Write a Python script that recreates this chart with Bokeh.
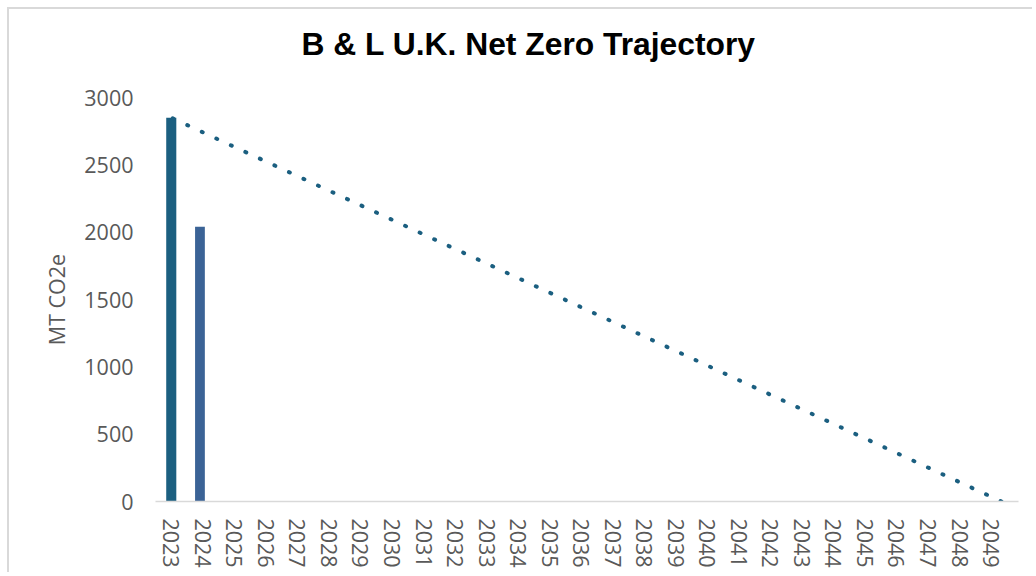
from bokeh.plotting import figure
from bokeh.models import Range1d, FixedTicker, Title
from bokeh.transform import dodge
from bokeh.embed import file_html
from bokeh.resources import INLINE

# ---- data ----
tick_years = [2023, 2024, 2025, 2026, 2027, 2028, 2029, 2030, 2031, 2032,
              2033, 2034, 2035, 2036, 2037, 2038, 2039, 2040, 2041, 2042,
              2043, 2044, 2045, 2046, 2047, 2048, 2049]
y_ticks = [0, 500, 1000, 1500, 2000, 2500, 3000]

actual_year = [2023]
actual_value = [2850]
current_year = [2024]
current_value = [2040]

# net-zero trajectory endpoints (drawn from the zero end so a dot lands on it)
trajectory_years = [2049.33, 2023]
trajectory_values = [0, 2850]

title_text = "B & L U.K. Net Zero Trajectory"

# ---- figure ----
p = figure(width=1025, height=565, output_backend="svg", toolbar_location=None,
           x_range=Range1d(2022.5, 2049.87), y_range=Range1d(0, 3000),
           min_border_left=146, min_border_right=16,
           min_border_top=88, min_border_bottom=73)
p.styles = {"margin-left": "7px", "margin-top": "7px",
            "border-left": "2px solid #d9d9d9", "border-top": "2px solid #d9d9d9"}
p.outline_line_color = None
p.grid.visible = False
p.background_fill_color = "white"
p.border_fill_color = "white"

# trailing empty line lifts the title away from the plot area
p.title = Title(text=title_text + "\n", align="left",
                offset=146, standoff=0,
                text_font="Liberation Sans", text_font_style="bold",
                text_font_size="31.8px", text_color="#000000")

p.vbar(x=actual_year, top=actual_value, width=0.32, bottom=0,
       fill_color="#1b5f80", line_color=None)
p.vbar(x=dodge("x", -0.09), top="top", width=0.31, bottom=0,
       source=dict(x=current_year, top=current_value),
       fill_color="#3b6396", line_color=None)

p.line(trajectory_years, trajectory_values, line_color="#1b5f80",
       line_width=4, line_dash="1 15", line_cap="round")

FONT = "Open Sans"
SIZE = "21.5px"

# x axis
xa = p.xaxis[0]
xa.ticker = FixedTicker(ticks=tick_years)
xa.major_label_overrides = {y: str(y) for y in tick_years}
xa.major_label_orientation = "vertical"
xa.major_tick_out = 0
xa.major_tick_in = 0
xa.minor_tick_out = 0
xa.minor_tick_in = 0
xa.major_label_standoff = 17
xa.major_label_text_font = FONT
xa.major_label_text_font_size = SIZE
xa.major_label_text_color = "#595959"
xa.axis_line_color = "#d9d9d9"
xa.axis_line_width = 1.5
xa.major_tick_line_color = None
xa.minor_tick_line_color = None

# y axis
ya = p.yaxis[0]
ya.ticker = FixedTicker(ticks=y_ticks)
ya.major_tick_out = 0
ya.major_tick_in = 0
ya.minor_tick_out = 0
ya.minor_tick_in = 0
ya.major_label_standoff = 22
ya.major_label_text_font = FONT
ya.major_label_text_font_size = SIZE
ya.major_label_text_color = "#595959"
ya.axis_line_color = None
ya.major_tick_line_color = None
ya.minor_tick_line_color = None
ya.axis_label = "MT CO2e"
ya.axis_label_text_font = FONT
ya.axis_label_text_font_size = SIZE
ya.axis_label_text_font_style = "normal"
ya.axis_label_text_color = "#595959"
ya.axis_label_standoff = 10

open("out.html", "w").write(file_html(p, INLINE))
